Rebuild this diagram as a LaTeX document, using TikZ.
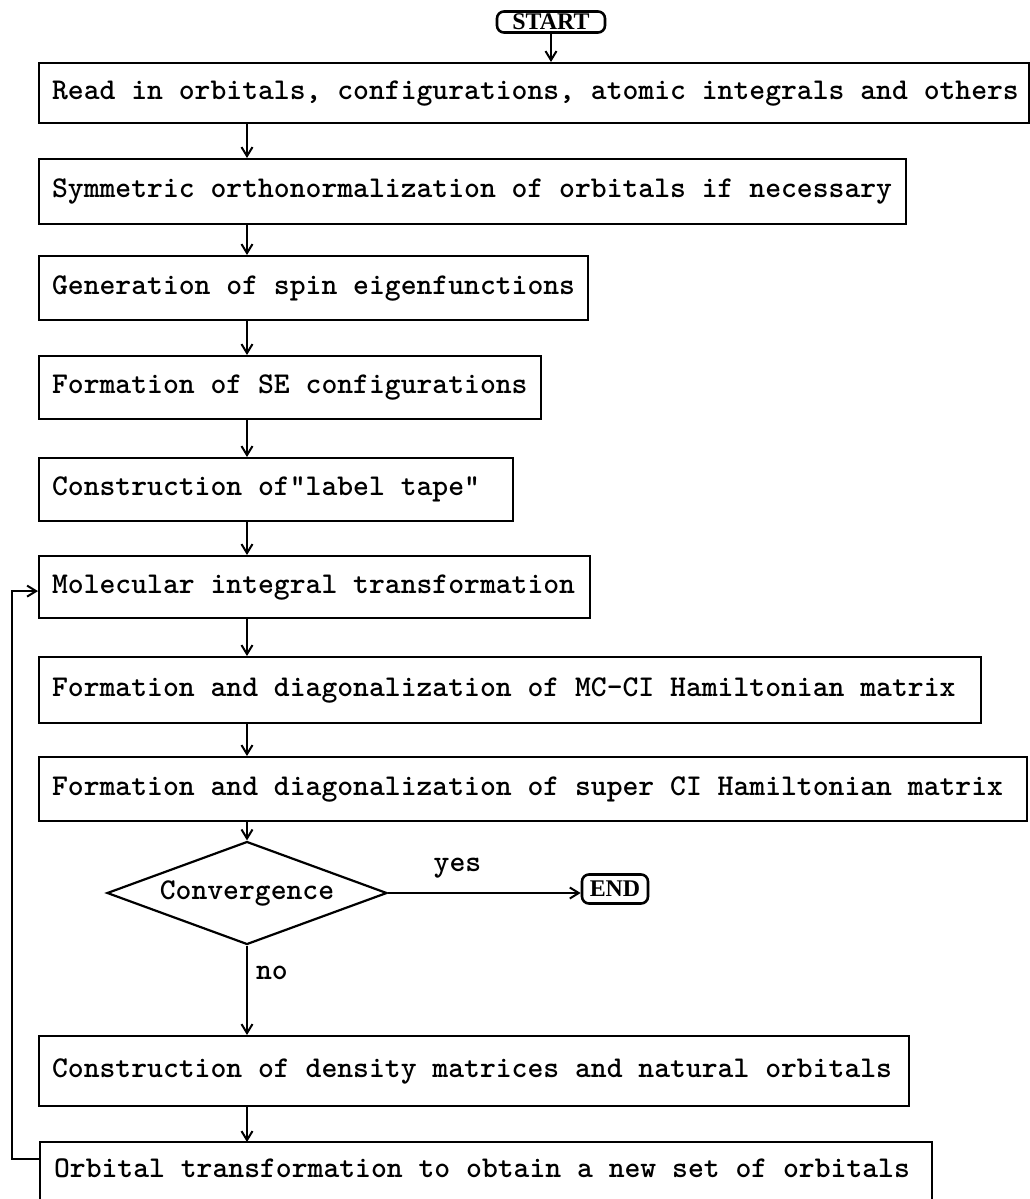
\documentclass[tikz,border=0pt]{standalone}
\usepackage{fontspec}
\newfontfamily\termfont{Liberation Serif}
\usetikzlibrary{shapes.geometric,arrows.meta}
\begin{document}
\begin{tikzpicture}[x=1bp,y=-1bp, line width=2.2bp,
  box/.style={draw, line width=2.2bp, anchor=north west, inner xsep=13bp, inner ysep=0bp,
    font=\fontsize{30.3}{34}\ttfamily\bfseries},
  term/.style={draw, line width=2.6bp, rounded corners=7bp, inner sep=0bp,
    font=\fontsize{24}{26}\termfont\bfseries},
  arr/.style={-{Straight Barb[length=9bp,width=11bp,line width=2bp]}},
  lbl/.style={font=\fontsize{30.3}{34}\ttfamily\bfseries, inner sep=0bp}]
\useasboundingbox (0,0) rectangle (1030,1199);
\clip (0,0) rectangle (1030,1199);
\coordinate (ax) at (247,0);
\coordinate (lx) at (12,0);

\node[term, minimum width=108bp, minimum height=21bp] (start) at (551,22) {START};

\node[box, minimum height=60bp] (b1) at (38,62) {\makebox[964bp][l]{Read in orbitals, configurations, atomic integrals and others}};
\node[box, minimum height=65bp] (b2) at (38,158) {\makebox[841bp][l]{Symmetric orthonormalization of orbitals if necessary}};
\node[box, minimum height=64bp] (b3) at (38,255) {\makebox[523bp][l]{Generation of spin eigenfunctions}};
\node[box, minimum height=63bp] (b4) at (38,355) {\makebox[476bp][l]{Formation of SE configurations}};
\node[box, minimum height=63bp] (b5) at (38,457) {\makebox[448bp][l]{Construction of"label tape"}};
\node[box, minimum height=62bp] (b6) at (38,555) {\makebox[525bp][l]{Molecular integral transformation}};
\node[box, minimum height=66bp] (b7) at (38,656) {\makebox[916bp][l]{Formation and diagonalization of MC-CI Hamiltonian matrix}};
\node[box, minimum height=64bp] (b8) at (38,756) {\makebox[962bp][l]{Formation and diagonalization of super CI Hamiltonian matrix}};

\node[draw, shape=diamond, aspect=2.8, line width=2.2bp, minimum width=280bp, minimum height=103bp, inner sep=0bp,
  font=\fontsize{30.3}{34}\ttfamily\bfseries] (dia) at (247,893) {Convergence};
\node[term, minimum width=66bp, minimum height=29bp] (end) at (615,889) {END};

\node[box, minimum height=70bp] (b9) at (38,1035) {\makebox[844bp][l]{Construction of density matrices and natural orbitals}};
\node[box, draw=none, minimum height=50bp] (b10) at (40,1142) {\makebox[864bp][l]{Orbital transformation to obtain a new set of orbitals}};
\draw (b10.north west) ++(0,70) -- (b10.north west) -- (b10.north east) -- ++(0,70);

\draw[arr] (start.south) -- (start.south |- b1.north);
\draw[arr] (b1.south -| ax) -- (b2.north -| ax);
\draw[arr] (b2.south -| ax) -- (b3.north -| ax);
\draw[arr] (b3.south -| ax) -- (b4.north -| ax);
\draw[arr] (b4.south -| ax) -- (b5.north -| ax);
\draw[arr] (b5.south -| ax) -- (b6.north -| ax);
\draw[arr] (b6.south -| ax) -- (b7.north -| ax);
\draw[arr] (b7.south -| ax) -- (b8.north -| ax);
\draw[arr] (b8.south -| ax) -- (dia.north);
\draw[arr] (dia.east) -- node[lbl, above=14bp, pos=0.36] (yes) {yes} (dia.east -| end.west);
\draw[arr] (dia.south) -- node[lbl, right=8bp, pos=0.3] (no) {no} (dia.south |- b9.north);
\draw[arr] (b9.south -| ax) -- (b10.north -| ax);
\draw[arr] ([yshift=9bp]b10.west) -- ([yshift=9bp]b10.west -| lx) -- ([yshift=-4bp]b6.west -| lx) -- ([yshift=-4bp]b6.west);
\end{tikzpicture}
\end{document}
